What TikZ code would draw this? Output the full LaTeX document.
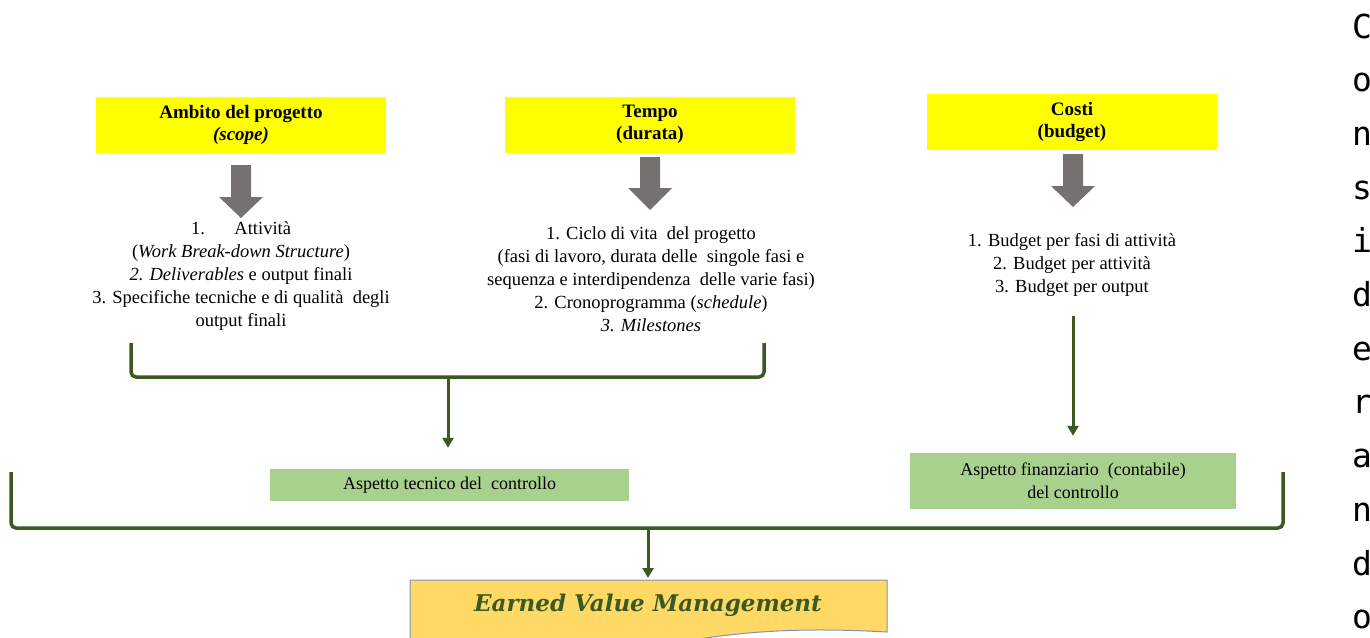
\documentclass[tikz,border=0pt]{standalone}
\usepackage{fontspec}
\setmainfont{Liberation Serif}
\newfontfamily\evmfont{DejaVu Serif}
\newfontfamily\vertfont{DejaVu Sans Mono}
\usetikzlibrary{arrows.meta}

\definecolor{titleyellow}{HTML}{FFFF00}
\definecolor{arrowgray}{HTML}{767171}
\definecolor{darkgreen}{HTML}{3A5A22}
\definecolor{boxgreen}{HTML}{A9D18E}
\definecolor{evmyellow}{HTML}{FFD966}
\definecolor{evmborder}{HTML}{7F93B8}

% grey block arrow: centre x, top y, shaft end y, tip y
\newcommand{\blockarrow}[4]{%
  \fill[arrowgray] (#1-10,#2) -- (#1+10,#2) -- (#1+10,#3) -- (#1+22,#3)
    -- (#1,#4) -- (#1-22,#3) -- (#1-10,#3) -- cycle;}

\begin{document}
\begin{tikzpicture}[x=1pt, y=-1pt,
    titlebox/.style={fill=titleyellow, minimum width=290pt, minimum height=56pt,
      align=center, font=\fontsize{19}{22}\selectfont\bfseries},
    listtext/.style={align=center, font=\fontsize{18.5}{23}\selectfont},
    greenbox/.style={fill=boxgreen, align=center, font=\fontsize{18}{23}\selectfont},
    bracket/.style={draw=darkgreen, line width=3.5pt, rounded corners=5pt},
    connector/.style={draw=darkgreen, line width=3pt, -{Triangle[width=11pt,length=10pt]}},
  ]
  \useasboundingbox (0,0) rectangle (1370,637);

  % titles
  \node[titlebox] (scope) at (241,125) {Ambito del progetto\\\textit{(scope)}};
  \node[titlebox] (tempo) at (650,124.5) {Tempo\\(durata)};
  \node[titlebox] (costi) at (1072,122) {Costi\\(budget)};

  \blockarrow{241}{165}{197}{218}
  \blockarrow{650}{157}{188}{210}
  \blockarrow{1073}{154}{186}{207}

  % lists
  \node[listtext] (scopelist) at (241,276) {1.\hspace{1.6em}Attività\\
    (\textit{Work Break-down Structure})\\
    \textit{2. Deliverables} e output finali\\
    3. Specifiche tecniche e di qualità\ \ degli\\
    output finali};
  \node[listtext] (tempolist) at (651,279.5) {1. Ciclo di vita\ \ del progetto\\
    (fasi di lavoro, durata delle\ \ singole fasi e\\
    sequenza e interdipendenza\ \ delle varie fasi)\\
    2. Cronoprogramma (\textit{schedule})\\
    \textit{3. Milestones}};
  \node[listtext] (costilist) at (1072,265) {1. Budget per fasi di attività\\
    2. Budget per attività\\
    3. Budget per output};

  % control aspects
  \node[greenbox, minimum width=359pt, minimum height=32pt] (tecnico) at (449.5,485)
    {Aspetto tecnico del\ \ controllo};
  \node[greenbox, minimum width=326pt, minimum height=56pt] (finanz) at (1073,481)
    {Aspetto finanziario\ \ (contabile)\\del controllo};

  % first bracket
  \coordinate (stem1) at (448,377);
  \draw[bracket] (131,343) -- (131,377) -- (764,377) -- (764,343);
  \draw[connector] (stem1) -- ([yshift=21pt]stem1 |- tecnico.north);

  \coordinate (fstart) at (1073,316);
  \draw[connector] (fstart) -- ([yshift=17pt]finanz.north);

  % big bracket
  \coordinate (stem2) at (648,528);
  \draw[bracket] (11,472) -- (11,528) -- (1283,528) -- (1283,472);

  % earned value box
  \filldraw[fill=evmyellow, draw=evmborder, line width=1pt]
    (410,580) -- (887,580) -- (887,632)
    .. controls (780,626) and (720,634) .. (648,648)
    .. controls (560,665) and (480,668) .. (410,660) -- cycle;
  \node[text=darkgreen, font=\evmfont\fontsize{23}{26}\selectfont\bfseries\itshape]
    (evm) at (648,605) {Earned Value Management};
  \draw[connector] (stem2) -- ([yshift=2pt]stem2 |- 0,580);

  % vertical word
  \foreach \ch [count=\i] in {C,o,n,s,i,d,e,r,a,n,d,o}
    \node[anchor=base, inner sep=0pt, font=\vertfont\fontsize{33}{33}\selectfont]
      (v\i) at (1362,{38+53.7*(\i-1)}) {\ch};
\end{tikzpicture}
\end{document}
